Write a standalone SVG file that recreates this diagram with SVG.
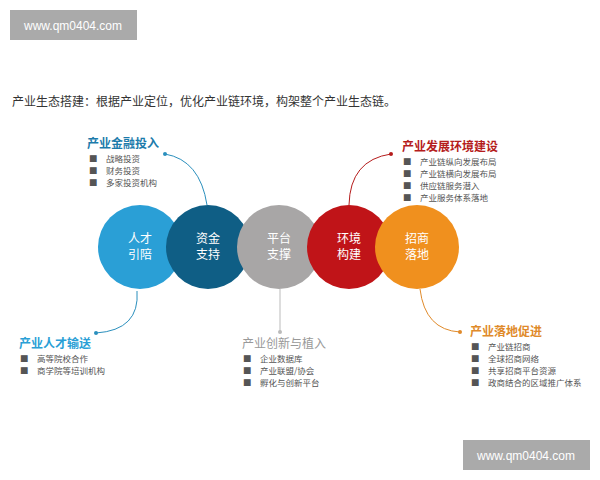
<svg xmlns="http://www.w3.org/2000/svg" width="600" height="480" viewBox="0 0 600 480">
<style>
text{font-family:"Noto Sans CJK SC","Noto Sans",sans-serif}
.c{font-size:12px;fill:#fff;text-anchor:middle}
.h{font-size:12px;font-weight:bold}
.i{font-size:8.5px;fill:#555}
.wm{font-size:12px;fill:#fff;font-family:"Liberation Sans",sans-serif;text-anchor:middle}
.ln{fill:none;stroke-width:1}
</style>
<rect width="600" height="480" fill="#fff"/>
<rect x="10" y="10" width="127" height="30" fill="#aaa"/>
<text class="wm" x="73" y="30">www.qm0404.com</text>
<rect x="463" y="440" width="127" height="30" fill="#aaa"/>
<text class="wm" x="526" y="460">www.qm0404.com</text>
<text x="12" y="106" font-size="12" fill="#333">产业生态搭建：根据产业定位，优化产业链环境，构架整个产业生态链。</text>
<g id="connectors">
<path class="ln" stroke="#2a8fbd" d="M165,154 Q200,160 207,205"/><circle cx="165" cy="154" r="2" fill="#2a8fbd"/>
<path class="ln" stroke="#2a8fbd" d="M137,291 Q140,330 96,333"/><circle cx="96" cy="333" r="2" fill="#2a8fbd"/>
<path class="ln" stroke="#bbb" d="M280,289 L280,332"/><circle cx="280" cy="332" r="2" fill="#bbb"/>
<path class="ln" stroke="#b51c1c" d="M349,205 Q350,160 391,154"/><circle cx="391" cy="154" r="2" fill="#b51c1c"/>
<path class="ln" stroke="#e08a2a" d="M420,289 Q425,330 460,332"/><circle cx="460" cy="332" r="2" fill="#e08a2a"/>
</g>
<g id="n1"><circle cx="140" cy="247" r="42" fill="#2a9fd6"/><text class="c" x="140" y="243">人才</text><text class="c" x="140" y="259">引陪</text></g>
<g id="n2"><circle cx="208" cy="247" r="42" fill="#0f5e85"/><text class="c" x="208" y="243">资金</text><text class="c" x="208" y="259">支持</text></g>
<g id="n3"><circle cx="279" cy="247" r="42" fill="#a8a6a6"/><text class="c" x="279" y="243">平台</text><text class="c" x="279" y="259">支撑</text></g>
<g id="n4"><circle cx="349" cy="247" r="42" fill="#c01418"/><text class="c" x="349" y="243">环境</text><text class="c" x="349" y="259">构建</text></g>
<g id="n5"><circle cx="417" cy="247" r="42" fill="#f0901e"/><text class="c" x="417" y="243">招商</text><text class="c" x="417" y="259">落地</text></g>
<g id="t1"><text class="h" x="87" y="148" fill="#1c7bab">产业金融投入</text>
<text class="i" x="89" y="162">■　战略投资</text><text class="i" x="89" y="174">■　财务投资</text><text class="i" x="89" y="186">■　多家投资机构</text></g>
<g id="t2"><text class="h" x="19" y="348" fill="#2a9fd6">产业人才输送</text>
<text class="i" x="20" y="362">■　高等院校合作</text><text class="i" x="20" y="374">■　商学院等培训机构</text></g>
<g id="t3"><text x="242" y="348" font-size="12" fill="#999">产业创新与植入</text>
<text class="i" x="243" y="362">■　企业数据库</text><text class="i" x="243" y="374">■　产业联盟/协会</text><text class="i" x="243" y="386">■　孵化与创新平台</text></g>
<g id="t4"><text class="h" x="402" y="151" fill="#b51c1c">产业发展环境建设</text>
<text class="i" x="403" y="165">■　产业链纵向发展布局</text><text class="i" x="403" y="177">■　产业链横向发展布局</text><text class="i" x="403" y="189">■　供应链服务潜入</text><text class="i" x="403" y="201">■　产业服务体系落地</text></g>
<g id="t5"><text class="h" x="470" y="336" fill="#e08a2a">产业落地促进</text>
<text class="i" x="471" y="350">■　产业链招商</text><text class="i" x="471" y="362">■　全球招商网络</text><text class="i" x="471" y="374">■　共享招商平台资源</text><text class="i" x="471" y="386">■　政商结合的区域推广体系</text></g>
</svg>
